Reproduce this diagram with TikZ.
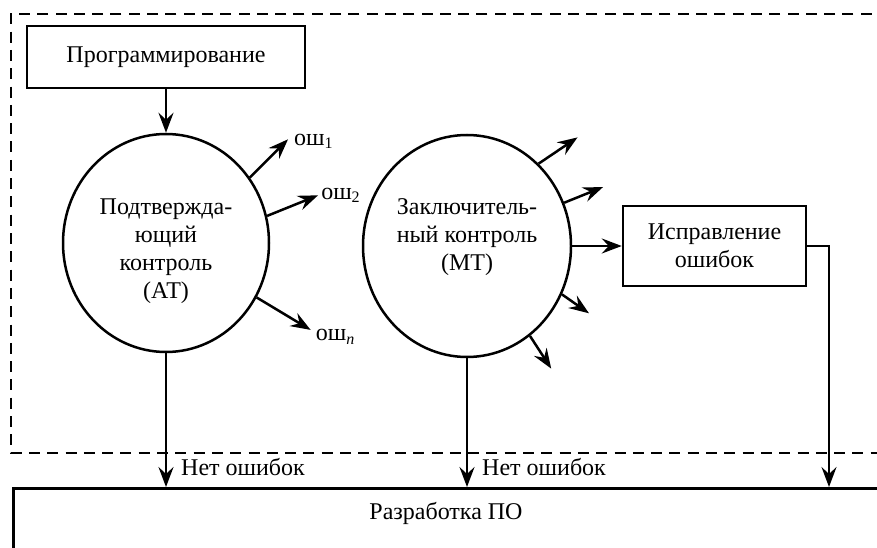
\documentclass[tikz,border=0pt]{standalone}
\usepackage{fontspec}
\setmainfont{Liberation Serif}
\usetikzlibrary{arrows.meta,calc,positioning,shapes.geometric}

\tikzset{
  box/.style={draw, line width=2.5pt, rectangle, inner sep=0pt, align=center},
  ring/.style={draw, line width=2.5pt, ellipse, inner sep=0pt},
  flow/.style={line width=2.5pt, -{Stealth[length=20pt,width=15pt,inset=7pt]}},
  frame/.style={line width=2.5pt, dash pattern=on 11pt off 7.3pt},
  lbl/.style={anchor=west, inner sep=0pt}
}
\newcommand{\osh}[1]{ош\raisebox{-0.35ex}{\fontsize{16}{16}\selectfont #1}}

\begin{document}
\begin{tikzpicture}[x=1pt,y=1pt,font=\fontsize{24}{28}\selectfont]
\useasboundingbox (0,0) rectangle (877,547);
\fill[white] (0,0) rectangle (877,547);
\clip (0,0) rectangle (877,547);

% dashed frame of the checking stage
\draw[frame] (890,533) -| (11,94) -- (890,94);

% boxes and rings
\node[box, minimum width=278pt, minimum height=62pt] (prog) at (166,490) {Программирование};
\node[ring, minimum width=206pt, minimum height=218pt] (at) at (166,304) {};
\node[align=center] (attxt) at (166,296) {Подтвержда-\\ющий\\контроль\\(АТ)};
\node[ring, minimum width=208pt, minimum height=222pt] (mt) at (467,301) {};
\node[align=center] (mttxt) at (467,310) {Заключитель-\\ный контроль\\(МТ)};
\node[box, minimum width=183pt, minimum height=80pt] (fix) at (714.5,301) {Исправление\\ошибок};
\node[box, anchor=north west, minimum width=1000pt, minimum height=150pt] (dev) at (12,60) {};
\node (devtxt) at (446,34) {Разработка ПО};

% main flow
\coordinate (drop) at (829,60);
\draw[flow] (prog.south) -- (prog.south |- at.north);
\draw[flow] (at.south) -- (at.south |- dev.north);
\draw[flow] (mt.south) -- (mt.south |- dev.north);
\draw[flow] (mt.east) -- (mt.east -| fix.west);
\draw[flow, line width=1.8pt] (fix.east) -| (drop);

\node[lbl] (okat) at (181,80) {Нет ошибок};
\node[lbl] (okmt) at (482,80) {Нет ошибок};

% errors found by the first check
\draw[flow] (at.38) -- ++(45:54) coordinate (e1);
\draw[flow] (at.15) -- ++(22:55) coordinate (e2);
\draw[flow] (at.-31) -- ++(-31:63) coordinate (en);
\node[lbl] (osh1) at ($(e1)+(6,-2)$) {\osh{1}};
\node[lbl] (osh2) at ($(e2)+(3,0)$) {\osh{2}};
\node[lbl] (oshn) at ($(en)+(5,-7)$) {\osh{\itshape n}};

% errors found by the final check
\foreach \a/\d/\l [count=\i] in {49/34/47, 24/22/42, -27/-35/33, -55/-57/39}
  \draw[flow] (mt.\a) -- ++(\d:\l) coordinate (r\i);
\end{tikzpicture}
\end{document}
